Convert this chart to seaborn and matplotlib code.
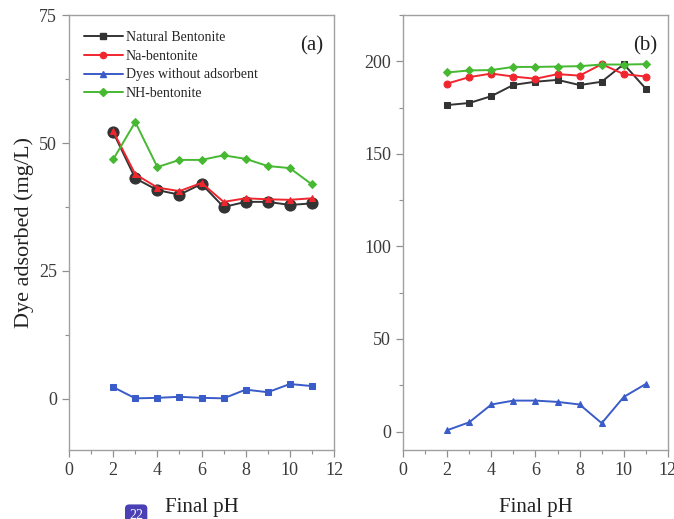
import numpy as np
import pandas as pd
import matplotlib
matplotlib.use("Agg")
import matplotlib.pyplot as plt
from matplotlib.ticker import MultipleLocator
from matplotlib.lines import Line2D
import seaborn as sns

# Data
ph = [2, 3, 4, 5, 6, 7, 8, 9, 10, 11]

# panel (a)
natural_a = [52.1, 43.1, 40.8, 39.9, 42.0, 37.5, 38.5, 38.5, 37.9, 38.2]
na_a = [52.3, 43.9, 41.3, 40.6, 42.2, 38.5, 39.2, 39.0, 38.9, 39.2]
dyes_a = [2.3, 0.1, 0.2, 0.4, 0.2, 0.1, 1.8, 1.3, 2.9, 2.5]
nh_a = [46.8, 54.1, 45.3, 46.7, 46.7, 47.6, 46.9, 45.5, 45.1, 41.9]

# panel (b)
natural_b = [176.4, 177.5, 181.2, 187.3, 189.0, 190.0, 187.2, 189.0, 198.5, 185.2]
na_b = [188.0, 191.5, 193.4, 191.8, 190.6, 193.1, 192.3, 198.5, 193.1, 191.8]
dyes_b = [0.7, 5.0, 14.6, 16.7, 16.7, 16.0, 14.6, 4.5, 18.7, 25.7]
nh_b = [194.0, 195.1, 195.3, 197.0, 197.0, 197.2, 197.4, 198.3, 198.3, 198.5]

names = ["Natural Bentonite", "Na-bentonite", "Dyes without adsorbent", "NH-bentonite"]
colors = ["#333333", "#f0262f", "#3a5cc8", "#46b832"]

sns.set_style("ticks")
plt.rcParams["font.family"] = ["Liberation Serif", "DejaVu Serif"]

fig = plt.figure(figsize=(6.74, 5.19), dpi=100)
ax_a = fig.add_axes([0.1024, 0.1329, 0.3932, 0.838])
ax_b = fig.add_axes([0.598, 0.1329, 0.393, 0.838])


def draw(ax, series, markers, sizes):
    for name, vals, col, mk, ms in zip(names, series, colors, markers, sizes):
        df = pd.DataFrame({"pH": ph, "val": vals})
        sns.lineplot(data=df, x="pH", y="val", ax=ax, color=col, marker=mk,
                     markersize=ms, markeredgecolor=col, linewidth=1.4,
                     label=name)


# the (a) markers differ from the key shown in its legend
draw(ax_a, [natural_a, na_a, dyes_a, nh_a], ["o", "^", "s", "D"], [8, 5, 4.5, 4])
draw(ax_b, [natural_b, na_b, dyes_b, nh_b], ["s", "o", "^", "D"], [4.5, 5, 4.8, 4])

ax_a.set_ylim(-10, 75)
ax_a.yaxis.set_major_locator(MultipleLocator(25))
ax_a.yaxis.set_minor_locator(MultipleLocator(12.5))
ax_b.set_ylim(-10, 225)
ax_b.yaxis.set_major_locator(MultipleLocator(50))
ax_b.yaxis.set_minor_locator(MultipleLocator(25))

for ax, tag in [(ax_a, "(a)"), (ax_b, "(b)")]:
    ax.set_xlim(0, 12)
    ax.xaxis.set_major_locator(MultipleLocator(2))
    ax.xaxis.set_minor_locator(MultipleLocator(1))
    for s in ax.spines.values():
        s.set_color("#a0a0a0")
        s.set_linewidth(1.0)
    ax.tick_params(which="major", direction="out", length=5, color="#909090",
                   labelsize=13, labelcolor="#3a3a3a", width=0.9)
    ax.tick_params(which="minor", direction="out", length=3, color="#909090",
                   width=0.8)
    ax.set_xlabel("Final pH", fontsize=15, color="#222222", labelpad=14)
    ax.set_ylabel("")
    ax.text(0.96, 0.93, tag, transform=ax.transAxes, ha="right", va="center",
            fontsize=15, color="#222222")

ax_a.set_ylabel("Dye adsorbed (mg/L)", fontsize=16, color="#222222", labelpad=4)

handles = [Line2D([0], [0], color=c, marker=m, markersize=ms, markeredgecolor=c, lw=1.4)
           for c, m, ms in zip(colors, ["s", "o", "^", "D"], [4.5, 4.5, 5, 4])]
ax_a.legend(handles, names, loc="upper left", bbox_to_anchor=(0.02, 0.985),
            frameon=False, fontsize=10, handlelength=2.8, handletextpad=0.2,
            labelspacing=0.4, borderaxespad=0.3)
ax_b.legend_.remove()

# badge at bottom left of the screenshot
fig.text(0.202, -0.005, "22", fontsize=10, color="white", ha="center", va="bottom",
         bbox=dict(boxstyle="round,pad=0.3", fc="#4a3fb5", ec="none"))

fig.savefig("out.png", dpi=100)
